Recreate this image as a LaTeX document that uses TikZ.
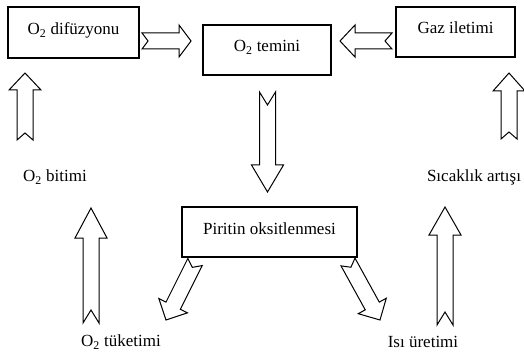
\documentclass[tikz,border=0pt]{standalone}
\usepackage{fontspec}
\setmainfont{Liberation Serif}
\usepackage{tikz}

\newcommand{\fatarrow}[4]{%
  \pgfmathanglebetweenpoints{\pgfpointanchor{#1}{center}}{\pgfpointanchor{#2}{center}}%
  \let\fatang\pgfmathresult
  \pgfpointdiff{\pgfpointanchor{#1}{center}}{\pgfpointanchor{#2}{center}}%
  \pgfgetlastxy{\fatdx}{\fatdy}%
  \pgfmathveclen{\fatdx}{\fatdy}\let\fatlen\pgfmathresult
  \begin{scope}[shift={(#1)}, rotate=\fatang]
    \draw[arrowbody] (0pt,8pt) -- ({\fatlen pt-#3pt},8pt) -- ({\fatlen pt-#3pt},16pt)
      -- (\fatlen pt,0pt) -- ({\fatlen pt-#3pt},-16pt) -- ({\fatlen pt-#3pt},-8pt)
      -- (0pt,-8pt) -- (#4pt,0pt) -- cycle;
  \end{scope}}

\begin{document}
\begin{tikzpicture}[x=1pt, y=-1pt, line width=1.1pt, color=black,
      every node/.append style={font=\fontsize{17}{20}\selectfont, inner sep=0pt},
      arrowbody/.style={line width=1pt, fill=white, line join=miter},
      box/.style={draw, line width=1.3pt, text height=12pt, text depth=8pt}]
  \useasboundingbox (0,0) rectangle (524,358);
  \node (dif) [box, minimum width=131pt, minimum height=51pt] at (73.5,32.5) {O\textsubscript{2} difüzyonu};
  \node (temin) [box, minimum width=128pt, minimum height=50pt] at (267,50) {O\textsubscript{2} temini};
  \node (gaz) [box, minimum width=119pt, minimum height=50pt] at (455.5,32) {Gaz iletimi};
  \node (pirit) [box, minimum width=175pt, minimum height=50pt] at (269.5,232) {Piritin oksitlenmesi};
  \node (bitim) at (55,177) {O\textsubscript{2} bitimi};
  \node (sicak) at (474,177) {Sıcaklık artışı};
  \node (tuket) at (121,342) {O\textsubscript{2} tüketimi};
  \node (isi) at (423,342) {Isı üretimi};
  \coordinate (a_1) at (142,41);   \coordinate (b_1) at (191,41);
  \coordinate (a_2) at (392,41);   \coordinate (b_2) at (340,41);
  \coordinate (a_3) at (267.5,92); \coordinate (b_3) at (267.5,192);
  \coordinate (a_4) at (25,140);   \coordinate (b_4) at (25,73);
  \coordinate (a_5) at (509,139);  \coordinate (b_5) at (509,73);
  \coordinate (a_6) at (91,323);   \coordinate (b_6) at (91,208);
  \coordinate (a_7) at (445,325);  \coordinate (b_7) at (445,207);
  \coordinate (a_8) at (195,262);  \coordinate (b_8) at (166,320);
  \coordinate (a_9) at (348,262);  \coordinate (b_9) at (380,320);
  \fatarrow{a_1}{b_1}{12}{6}
  \fatarrow{a_2}{b_2}{15}{7}
  \fatarrow{a_3}{b_3}{27}{13}
  \fatarrow{a_4}{b_4}{17}{7}
  \fatarrow{a_5}{b_5}{18}{7}
  \fatarrow{a_6}{b_6}{30}{13}
  \fatarrow{a_7}{b_7}{28}{13}
  \fatarrow{a_8}{b_8}{16}{6}
  \fatarrow{a_9}{b_9}{16}{6}
\end{tikzpicture}
\end{document}
